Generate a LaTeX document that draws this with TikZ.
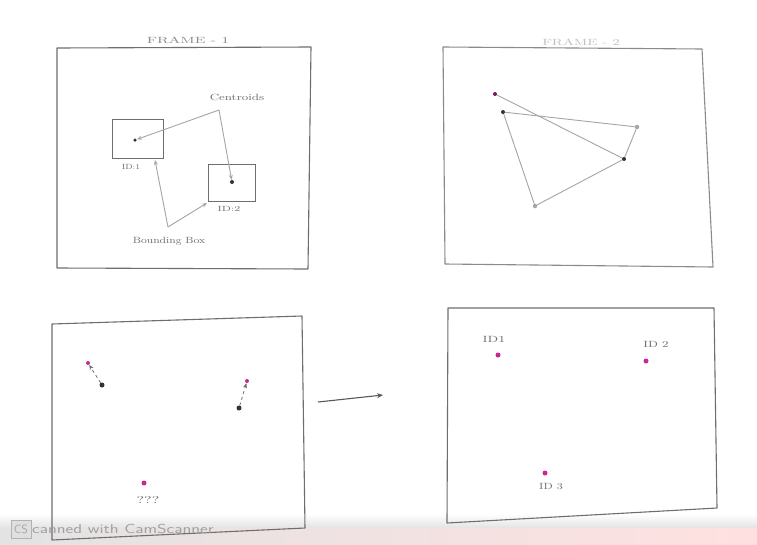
\documentclass[tikz,border=0pt]{standalone}
\usetikzlibrary{arrows.meta}
\definecolor{pinkdot}{RGB}{200,40,150}
\definecolor{inkgray}{RGB}{110,110,110}
\definecolor{lightink}{RGB}{165,165,165}
\newcommand{\wideTxt}[2]{\scalebox{#1}[1]{#2}}
\tikzset{
  x=1pt,y=-1pt,
  framebox/.style={draw=inkgray,line width=1.1pt,line join=round},
  sketch/.style={draw=lightink,line width=0.9pt},
  boxdraw/.style={draw=inkgray,line width=0.9pt},
  dot/.style={circle,fill=black!80,inner sep=0pt,minimum size=5pt},
  pdot/.style={circle,fill=pinkdot,inner sep=0pt,minimum size=5pt},
  gdot/.style={circle,fill=gray!70,inner sep=0pt,minimum size=4.5pt},
  hand/.style={text=inkgray,font=\fontsize{9}{10}\selectfont,inner sep=1pt},
  faint/.style={text=lightink,font=\fontsize{9}{10}\selectfont,inner sep=1pt},
  tip/.style={-{Stealth[length=5pt,width=4pt]}},
}
\begin{document}
\begin{tikzpicture}
\useasboundingbox (0,0) rectangle (757,544);
\fill[white] (0,0) rectangle (757,544);
% bottom scan band
\shade[top color=white,bottom color=gray!22] (0,514) rectangle (757,528);
\shade[left color=gray!22,right color=red!12] (0,528) rectangle (757,544);

% ---------- Frame 1 ----------
\coordinate (f1a) at (57,48);
\coordinate (f1b) at (311,47);
\coordinate (f1c) at (308,269);
\coordinate (f1d) at (57,268);
\draw[framebox] (f1a) -- (f1b) -- (f1c) -- (f1d) -- cycle;
\node[faint,text=inkgray!80] (t1) at (188,40) {\wideTxt{1.7}{FRAME - 1}};

\draw[boxdraw] (112,119) rectangle (163,158);
\draw[boxdraw] (208,164) rectangle (255,201);
\coordinate (b1c) at (155,160);
\coordinate (b2c) at (207,203);
\node[dot,minimum size=3.5pt] (c1) at (135,140) {};
\node[dot,minimum size=4pt] (c2) at (232,182) {};
\node[hand,font=\fontsize{7.5}{8}\selectfont] (id1) at (131,167) {\wideTxt{1.2}{ID:1}};
\node[hand,font=\fontsize{7.5}{8}\selectfont] (id2) at (229,209) {\wideTxt{1.5}{ID:2}};

\node[hand] (cent) at (237,97) {\wideTxt{1.4}{Centroids}};
\coordinate (v1) at (219,110);
\draw[sketch,tip] (v1) -- (c1);
\draw[sketch,tip] (v1) -- (c2);

\node[hand] (bb) at (169,241) {\wideTxt{1.25}{Bounding Box}};
\coordinate (v2) at (168,227);
\draw[sketch,tip] (v2) -- (b1c);
\draw[sketch,tip] (v2) -- (b2c);

% ---------- Frame 2 ----------
\coordinate (f2a) at (443,47);
\coordinate (f2b) at (702,49);
\coordinate (f2c) at (713,267);
\coordinate (f2d) at (445,264);
\draw[framebox,draw=inkgray!80] (f2a) -- (f2b) -- (f2c) -- (f2d) -- cycle;
\node[faint,text=lightink!70] (t2) at (581,42) {\wideTxt{1.6}{FRAME - 2}};

\node[dot,fill=pinkdot!60!black,minimum size=4pt] (pa) at (495,94) {};
\node[dot,minimum size=4pt] (pb) at (503,112) {};
\node[gdot] (pc) at (637,127) {};
\node[dot,minimum size=4pt] (pd) at (624,159) {};
\node[gdot] (pe) at (535,206) {};
\draw[sketch] (pa) -- (pd);
\draw[sketch] (pb) -- (pc);
\draw[sketch] (pb) -- (pe);
\draw[sketch] (pe) -- (pd);
\draw[sketch] (pd) -- (pc);

% ---------- Frame 3 ----------
\coordinate (f3a) at (52,324);
\coordinate (f3b) at (302,316);
\coordinate (f3c) at (305,528);
\coordinate (f3d) at (52,540);
\draw[framebox] (f3a) -- (f3b) -- (f3c) -- (f3d) -- cycle;

\node[pdot,minimum size=4pt] (q1p) at (88,363) {};
\node[dot] (q1) at (102,385) {};
\draw[inkgray,line width=0.8pt,dashed,tip] (q1) -- (q1p);
\node[pdot,minimum size=4pt] (q2p) at (247,381) {};
\node[dot] (q2) at (239,408) {};
\draw[inkgray,line width=0.8pt,dashed,tip] (q2) -- (q2p);
\node[pdot] (q3) at (144,483) {};
\node[hand,font=\fontsize{10}{11}\selectfont] (q3l) at (148,500) {\wideTxt{1.6}{???}};

% arrow between frames
\coordinate (ar1) at (318,402);
\coordinate (ar2) at (383,395);
\draw[inkgray!80!black,line width=1.1pt,-{Stealth[length=6pt,width=5pt]}] (ar1) -- (ar2);

% ---------- Frame 4 ----------
\coordinate (f4a) at (448,308);
\coordinate (f4b) at (714,308);
\coordinate (f4c) at (717,508);
\coordinate (f4d) at (447,523);
\draw[framebox] (f4a) -- (f4b) -- (f4c) -- (f4d) -- cycle;

\node[pdot] (r1) at (498,355) {};
\node[hand] (r1l) at (494,339) {\wideTxt{1.5}{ID1}};
\node[pdot] (r2) at (646,361) {};
\node[hand] (r2l) at (656,344) {\wideTxt{1.4}{ID 2}};
\node[pdot] (r3) at (545,473) {};
\node[hand] (r3l) at (551,487) {\wideTxt{1.3}{ID 3}};

% watermark
\node[draw=gray!60,fill=gray!25,text=gray!70,font=\sffamily\fontsize{12}{13}\selectfont,inner sep=1.5pt,minimum height=18pt,minimum width=20pt] (cs) at (21,529) {CS};
\node[text=gray!75,font=\sffamily\fontsize{13}{14}\selectfont,anchor=west,inner sep=0pt] (wm) at (32,529) {\wideTxt{1.35}{canned with CamScanner}};
\end{tikzpicture}
\end{document}
